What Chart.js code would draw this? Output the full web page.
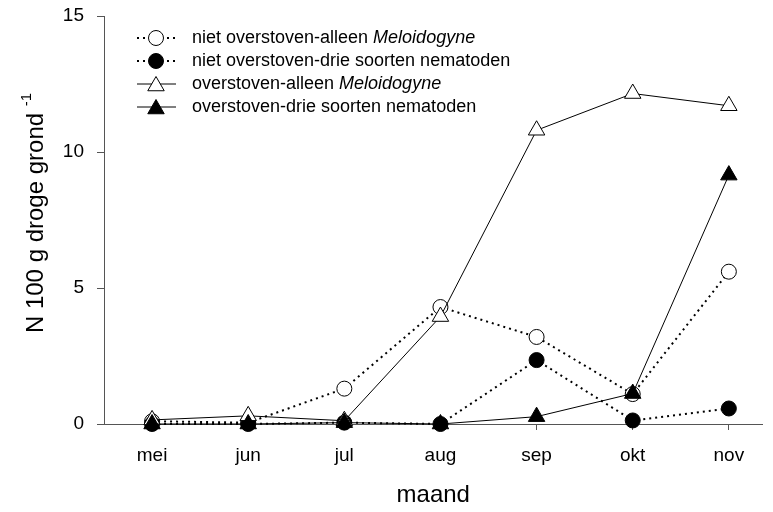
<!DOCTYPE html>
<html>
<head>
<meta charset="utf-8">
<script src="https://cdn.jsdelivr.net/npm/chart.js@4.4.1/dist/chart.umd.min.js"></script>
<style>
  html, body { margin: 0; padding: 0; background: #fff; }
  #wrap { width: 773px; height: 512px; }
</style>
</head>
<body>
<div id="wrap"><canvas id="c" width="773" height="512"></canvas></div>
<script>
// Nematode counts (N per 100 g dry soil) per month
const months = ['mei', 'jun', 'jul', 'aug', 'sep', 'okt', 'nov'];
const yTicks = [0, 5, 10, 15];

const nietAlleenMeloidogyne = [0.1, 0.05, 1.3, 4.3, 3.2, 1.1, 5.6];
const nietDrieSoorten = [0, 0, 0.05, 0, 2.35, 0.13, 0.57];
const overstovenAlleenMeloidogyne = [0.15, 0.3, 0.12, 3.95, 10.8, 12.15, 11.7];
const overstovenDrieSoorten = [0, 0, 0.05, 0, 0.27, 1.12, 9.15];

// Legend text: plain part followed by an italic genus name
const legendPlain = [
  'niet overstoven-alleen ',
  'niet overstoven-drie soorten nematoden',
  'overstoven-alleen ',
  'overstoven-drie soorten nematoden'
];
const legendItalic = ['Meloidogyne', '', 'Meloidogyne', ''];

const xTitle = 'maand';
const yTitle = 'N 100 g droge grond';
const yTitleSup = '-1';

const FONT = '"Liberation Sans", Arial, Helvetica, sans-serif';
const AXIS = '#555';

const toPoints = arr => arr.map((v, i) => ({ x: i + 1, y: v }));

const dotted = { borderDash: [2, 4], borderWidth: 2 };

const datasets = [
  Object.assign({
    data: toPoints(nietAlleenMeloidogyne),
    borderColor: '#000', backgroundColor: '#fff',
    pointStyle: 'circle', pointRadius: 7.5, pointBorderWidth: 1,
    order: 3
  }, dotted),
  Object.assign({
    data: toPoints(nietDrieSoorten),
    borderColor: '#000', backgroundColor: '#000',
    pointStyle: 'circle', pointRadius: 7.5, pointBorderWidth: 1,
    order: 2
  }, dotted),
  {
    data: toPoints(overstovenAlleenMeloidogyne),
    borderColor: '#000', backgroundColor: '#fff', borderWidth: 1,
    pointStyle: 'triangle', pointRadius: 9.5, pointBorderWidth: 1,
    order: 1
  },
  {
    data: toPoints(overstovenDrieSoorten),
    borderColor: '#000', backgroundColor: '#000', borderWidth: 1,
    pointStyle: 'triangle', pointRadius: 9.5, pointBorderWidth: 1,
    order: 0
  }
];
datasets.forEach(d => {
  d.pointBackgroundColor = d.backgroundColor;
  d.pointBorderColor = '#000';
  d.tension = 0;
  d.fill = false;
  d.clip = false;
});

// Legend and axis titles, drawn on top of the chart
const decorations = {
  id: 'decorations',
  afterDraw(chart) {
    const ctx = chart.ctx;
    const area = chart.chartArea;
    ctx.save();

    // legend
    const rowY = [38, 61, 84, 107];
    const lineX0 = 137, lineX1 = 176, markX = 156, textX = 192;
    datasets.forEach((d, i) => {
      const y = rowY[i];
      ctx.save();
      ctx.strokeStyle = '#000';
      ctx.lineWidth = d.borderWidth;
      ctx.setLineDash(d.borderDash || []);
      ctx.beginPath();
      ctx.moveTo(lineX0, y);
      ctx.lineTo(lineX1, y);
      ctx.stroke();
      ctx.setLineDash([]);
      ctx.fillStyle = d.backgroundColor;
      ctx.strokeStyle = '#000';
      ctx.lineWidth = d.pointBorderWidth;
      const py = d.pointStyle === 'triangle' ? y + 2 : y;
      Chart.helpers.drawPoint(ctx, {
        pointStyle: d.pointStyle, radius: d.pointRadius, borderWidth: d.pointBorderWidth, rotation: 0
      }, markX, py);
      ctx.restore();

      ctx.fillStyle = '#000';
      ctx.textBaseline = 'middle';
      ctx.textAlign = 'left';
      ctx.font = '18px ' + FONT;
      ctx.fillText(legendPlain[i], textX, y);
      if (legendItalic[i]) {
        const w = ctx.measureText(legendPlain[i]).width;
        ctx.font = 'italic 18px ' + FONT;
        ctx.fillText(legendItalic[i], textX + w, y);
      }
    });

    // x-axis title
    ctx.fillStyle = '#000';
    ctx.font = '24px ' + FONT;
    ctx.textAlign = 'center';
    ctx.textBaseline = 'middle';
    ctx.fillText(xTitle, (area.left + area.right) / 2, 495);

    // y-axis title with superscript
    ctx.save();
    ctx.translate(36, 0);
    ctx.rotate(-Math.PI / 2);
    ctx.font = '24px ' + FONT;
    const mainW = ctx.measureText(yTitle + ' ').width;
    ctx.font = '15px ' + FONT;
    const supW = ctx.measureText(yTitleSup).width;
    const total = mainW + supW;
    const start = -(213 + total / 2);
    ctx.textAlign = 'left';
    ctx.textBaseline = 'middle';
    ctx.font = '24px ' + FONT;
    ctx.fillText(yTitle, start, 0);
    ctx.font = '15px ' + FONT;
    ctx.fillText(yTitleSup, start + mainW, -9);
    ctx.restore();

    ctx.restore();
  }
};

new Chart(document.getElementById('c'), {
  type: 'line',
  data: { datasets },
  plugins: [decorations],
  options: {
    responsive: false,
    animation: false,
    events: [],
    layout: { padding: { top: 16, right: 2, left: 0, bottom: 0 } },
    plugins: { legend: { display: false }, tooltip: { enabled: false } },
    scales: {
      x: {
        type: 'linear',
        min: 0.5,
        max: 7.35,
        afterBuildTicks(scale) { scale.ticks = months.map((m, i) => ({ value: i + 1 })); },
        afterFit(scale) {
          scale.height = 88;
          scale.paddingLeft = 0;
          scale.paddingRight = 0;
        },
        ticks: {
          callback: v => months[v - 1],
          color: '#000',
          font: { family: FONT, size: 19 },
          padding: 14,
          maxRotation: 0,
          autoSkip: false
        },
        grid: { drawOnChartArea: false, color: AXIS, tickLength: 6 },
        border: { color: AXIS, width: 1 }
      },
      y: {
        min: 0,
        max: 15,
        afterBuildTicks(scale) { scale.ticks = yTicks.map(v => ({ value: v })); },
        afterFit(scale) {
          scale.width = 104;
          scale.paddingTop = 0;
          scale.paddingBottom = 0;
        },
        ticks: {
          color: '#000',
          font: { family: FONT, size: 19 },
          padding: 13
        },
        grid: { drawOnChartArea: false, color: AXIS, tickLength: 7 },
        border: { color: AXIS, width: 1 }
      }
    }
  }
});
</script>
</body>
</html>
